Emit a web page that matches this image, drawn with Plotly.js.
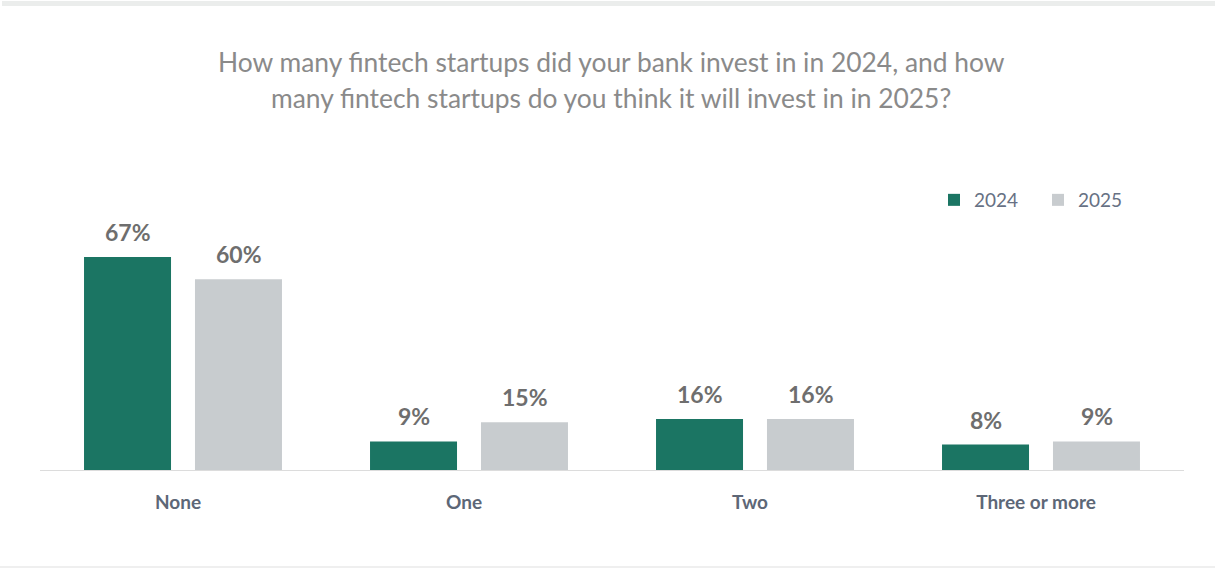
<!DOCTYPE html>
<html><head><meta charset="utf-8">
<script src="https://cdn.plot.ly/plotly-3.0.1.min.js"></script>
<style>html,body{margin:0;padding:0;background:#fff;}#chart{width:1215px;height:569px;}</style>
</head><body><div id="chart"></div>
<script>
const categories = ["None", "One", "Two", "Three or more"];
const series2024 = [67, 9, 16, 8];
const series2025 = [60, 15, 16, 9];
const seriesNames = ["2024", "2025"];
const titleLines = ["How many fintech startups did your bank invest in in 2024, and how", "many fintech startups do you think it will invest in in 2025?"];

const FONT = "Lato, 'Open Sans', sans-serif";
const colors = ["#1b7563", "#c8cccf"];
const allSeries = [series2024, series2025];

const traces = allSeries.map((vals, i) => ({
  type: "bar",
  name: seriesNames[i],
  x: categories,
  y: vals,
  marker: {color: colors[i]},
  hoverinfo: "skip"
}));

// value labels as annotations above the bars
const annotations = [];
allSeries.forEach((vals, i) => {
  vals.forEach((v, j) => {
    annotations.push({
      x: categories[j], y: v, xref: "x", yref: "y",
      text: v + "%", showarrow: false,
      xanchor: "center", yanchor: "bottom", yshift: 9,
      xshift: i === 0 ? -55.5 : 55.5,
      font: {family: FONT, size: 23, color: "#6e6e6e", weight: 700}
    });
  });
});
titleLines.forEach((t, k) => {
  annotations.push({
    text: t, showarrow: false, xref: "paper", yref: "paper",
    x: (611 - 40) / 1144, y: (470 - (62 + 36 * k)) / 256,
    xanchor: "center", yanchor: "middle",
    font: {family: FONT, size: 26.4, color: "#8a8a8a"}
  });
});

const layout = {
  width: 1215, height: 569,
  margin: {l: 40, r: 31, t: 214, b: 99, autoexpand: false},
  paper_bgcolor: "#ffffff", plot_bgcolor: "#ffffff",
  font: {family: FONT},
  barmode: "group",
  bargap: 0.224,
  bargroupgap: 0.216,
  showlegend: true,
  legend: {
    orientation: "h", x: (934 - 40) / 1144, y: (470 - 200) / 256,
    xanchor: "left", yanchor: "middle",
    font: {family: FONT, size: 19, color: "#677184"},
    entrywidth: 59, entrywidthmode: "pixels",
    itemwidth: 30, tracegroupgap: 0, traceorder: "normal"
  },
  xaxis: {
    showline: true, linecolor: "#dcdcdc", linewidth: 1,
    showgrid: false, zeroline: false, ticks: "",
    tickfont: {family: FONT, size: 19, color: "#5d6777", weight: 700},
    ticklabelstandoff: 15,
    ticklabelshift: -5,
    fixedrange: true
  },
  yaxis: {
    range: [0, 80.5], visible: false, showgrid: false, zeroline: false, fixedrange: true
  },
  annotations: annotations,
  shapes: [
    {type: "rect", xref: "paper", yref: "paper",
     x0: (2 - 40) / 1144, x1: (1215 - 40) / 1144,
     y0: (470 - 6) / 256, y1: (470 - 1) / 256,
     fillcolor: "#ebedec", line: {width: 0}},
    {type: "line", xref: "paper", yref: "paper",
     x0: (0 - 40) / 1144, x1: (1215 - 40) / 1144,
     y0: (470 - 567) / 256, y1: (470 - 567) / 256,
     line: {color: "#efefef", width: 2}}
  ]
};

Plotly.newPlot("chart", traces, layout, {displayModeBar: false, staticPlot: true});
</script>
</body></html>
